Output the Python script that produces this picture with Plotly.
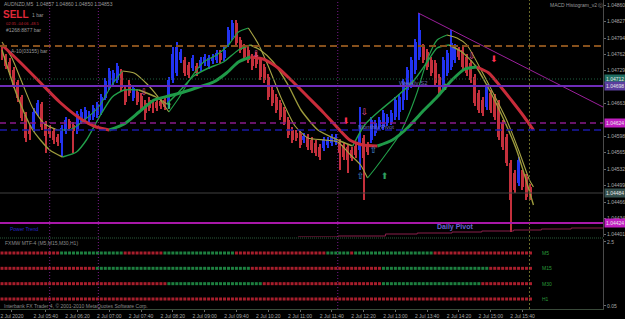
import plotly.graph_objects as go

# ---------------- data ----------------
bar_index = list(range(134))
open_ = [1.04774, 1.04758, 1.04746, 1.04730, 1.04706, 1.04676, 1.04640, 1.04610, 1.04614, 1.04644,
         1.04662, 1.04622, 1.04614, 1.04608, 1.04596, 1.04584, 1.04608, 1.04628, 1.04620, 1.04608,
         1.04630, 1.04634, 1.04630, 1.04636, 1.04640, 1.04646, 1.04674, 1.04694, 1.04706, 1.04710,
         1.04726, 1.04692, 1.04702, 1.04674, 1.04686, 1.04678, 1.04664, 1.04670, 1.04664, 1.04666,
         1.04668, 1.04670, 1.04662, 1.04710, 1.04724, 1.04750, 1.04750, 1.04740, 1.04734, 1.04738,
         1.04734, 1.04744, 1.04738, 1.04748, 1.04750, 1.04764, 1.04754, 1.04782, 1.04796, 1.04824,
         1.04790, 1.04776, 1.04770, 1.04756, 1.04760, 1.04750, 1.04736, 1.04716, 1.04690, 1.04676,
         1.04664, 1.04650, 1.04630, 1.04610, 1.04604, 1.04602, 1.04590, 1.04596, 1.04590, 1.04584,
         1.04576, 1.04574, 1.04580, 1.04584, 1.04586, 1.04586, 1.04580, 1.04576, 1.04570, 1.04578,
         1.04570, 1.04594, 1.04580, 1.04590, 1.04604, 1.04616, 1.04616, 1.04624, 1.04626, 1.04636,
         1.04646, 1.04670, 1.04690, 1.04700, 1.04730, 1.04756, 1.04776, 1.04766, 1.04750, 1.04744,
         1.04716, 1.04696, 1.04724, 1.04736, 1.04750, 1.04770, 1.04770, 1.04756, 1.04744, 1.04716,
         1.04684, 1.04670, 1.04656, 1.04684, 1.04676, 1.04664, 1.04624, 1.04596, 1.04544, 1.04524,
         1.04504, 1.04524, 1.04516, 1.04496]
close_ = [1.04754, 1.04738, 1.04726, 1.04700, 1.04674, 1.04634, 1.04594, 1.04602, 1.04646, 1.04664,
          1.04616, 1.04598, 1.04602, 1.04590, 1.04586, 1.04614, 1.04630, 1.04614, 1.04608, 1.04642,
          1.04646, 1.04650, 1.04642, 1.04654, 1.04660, 1.04676, 1.04708, 1.04728, 1.04724, 1.04738,
          1.04694, 1.04666, 1.04684, 1.04694, 1.04666, 1.04654, 1.04644, 1.04654, 1.04650, 1.04654,
          1.04658, 1.04656, 1.04710, 1.04762, 1.04776, 1.04766, 1.04724, 1.04720, 1.04754, 1.04724,
          1.04750, 1.04756, 1.04754, 1.04756, 1.04764, 1.04750, 1.04770, 1.04810, 1.04824, 1.04784,
          1.04770, 1.04756, 1.04750, 1.04738, 1.04742, 1.04716, 1.04710, 1.04676, 1.04664, 1.04650,
          1.04636, 1.04626, 1.04600, 1.04590, 1.04594, 1.04580, 1.04598, 1.04576, 1.04570, 1.04564,
          1.04556, 1.04590, 1.04590, 1.04596, 1.04596, 1.04564, 1.04556, 1.04550, 1.04554, 1.04560,
          1.04600, 1.04554, 1.04566, 1.04630, 1.04624, 1.04630, 1.04644, 1.04636, 1.04644, 1.04670,
          1.04676, 1.04706, 1.04730, 1.04750, 1.04786, 1.04810, 1.04750, 1.04736, 1.04724, 1.04704,
          1.04684, 1.04750, 1.04764, 1.04784, 1.04776, 1.04756, 1.04736, 1.04724, 1.04710, 1.04664,
          1.04650, 1.04644, 1.04696, 1.04650, 1.04636, 1.04596, 1.04576, 1.04544, 1.04470, 1.04490,
          1.04550, 1.04496, 1.04476, 1.04476]
high_ = [1.04778, 1.04762, 1.04754, 1.04736, 1.04710, 1.04680, 1.04646, 1.04620, 1.04654, 1.04670,
         1.04666, 1.04628, 1.04620, 1.04614, 1.04602, 1.04620, 1.04636, 1.04632, 1.04626, 1.04648,
         1.04652, 1.04656, 1.04648, 1.04660, 1.04666, 1.04682, 1.04714, 1.04734, 1.04730, 1.04744,
         1.04732, 1.04698, 1.04710, 1.04700, 1.04692, 1.04684, 1.04670, 1.04676, 1.04670, 1.04672,
         1.04674, 1.04676, 1.04716, 1.04776, 1.04786, 1.04772, 1.04756, 1.04746, 1.04760, 1.04744,
         1.04756, 1.04762, 1.04760, 1.04762, 1.04770, 1.04770, 1.04776, 1.04816, 1.04830, 1.04830,
         1.04796, 1.04782, 1.04776, 1.04762, 1.04766, 1.04756, 1.04742, 1.04722, 1.04696, 1.04682,
         1.04670, 1.04656, 1.04636, 1.04616, 1.04610, 1.04608, 1.04604, 1.04602, 1.04596, 1.04590,
         1.04582, 1.04596, 1.04596, 1.04602, 1.04602, 1.04592, 1.04586, 1.04582, 1.04576, 1.04584,
         1.04656, 1.04600, 1.04586, 1.04636, 1.04630, 1.04636, 1.04650, 1.04642, 1.04650, 1.04676,
         1.04682, 1.04712, 1.04736, 1.04756, 1.04792, 1.04844, 1.04782, 1.04772, 1.04756, 1.04750,
         1.04722, 1.04756, 1.04770, 1.04810, 1.04782, 1.04776, 1.04776, 1.04762, 1.04750, 1.04722,
         1.04690, 1.04676, 1.04702, 1.04690, 1.04682, 1.04670, 1.04630, 1.04602, 1.04550, 1.04530,
         1.04556, 1.04530, 1.04522, 1.04502]
low_ = [1.04750, 1.04732, 1.04720, 1.04694, 1.04666, 1.04628, 1.04586, 1.04590, 1.04606, 1.04638,
        1.04610, 1.04564, 1.04594, 1.04582, 1.04578, 1.04556, 1.04602, 1.04608, 1.04564, 1.04602,
        1.04622, 1.04628, 1.04624, 1.04630, 1.04634, 1.04640, 1.04670, 1.04690, 1.04700, 1.04704,
        1.04688, 1.04660, 1.04678, 1.04668, 1.04660, 1.04648, 1.04630, 1.04648, 1.04644, 1.04648,
        1.04652, 1.04650, 1.04654, 1.04704, 1.04718, 1.04744, 1.04718, 1.04714, 1.04728, 1.04718,
        1.04728, 1.04738, 1.04732, 1.04742, 1.04744, 1.04744, 1.04748, 1.04776, 1.04790, 1.04778,
        1.04764, 1.04750, 1.04744, 1.04730, 1.04734, 1.04710, 1.04704, 1.04670, 1.04658, 1.04644,
        1.04630, 1.04620, 1.04594, 1.04584, 1.04588, 1.04574, 1.04584, 1.04570, 1.04564, 1.04558,
        1.04550, 1.04568, 1.04574, 1.04578, 1.04580, 1.04530, 1.04550, 1.04524, 1.04548, 1.04554,
        1.04530, 1.04470, 1.04560, 1.04584, 1.04598, 1.04610, 1.04610, 1.04618, 1.04620, 1.04630,
        1.04630, 1.04650, 1.04670, 1.04694, 1.04722, 1.04750, 1.04744, 1.04730, 1.04718, 1.04698,
        1.04678, 1.04690, 1.04718, 1.04730, 1.04744, 1.04750, 1.04730, 1.04718, 1.04704, 1.04658,
        1.04644, 1.04638, 1.04650, 1.04644, 1.04630, 1.04590, 1.04570, 1.04538, 1.04406, 1.04484,
        1.04498, 1.04490, 1.04470, 1.04470]

# slow MA (thick, red falling / green rising) - bar, price
slow_ma_bar = [0, 4.5, 9.5, 14.5, 19.5, 23.75, 27, 30.75, 34.5, 38.25, 42, 45.75, 49.5, 53.25, 56.5,
               59.5, 62.5, 65.75, 69.5, 73.25, 77, 80.75, 84.5, 87.5, 90.75, 94.5, 98.25, 102,
               105.75, 109.5, 113.25, 116.5, 119.5, 122.5, 125.75, 128.75, 131.25, 133.75]
slow_ma_val = [1.04780, 1.04746, 1.04706, 1.04666, 1.04634, 1.04616, 1.04610, 1.04622, 1.04646,
               1.04670, 1.04678, 1.04686, 1.04696, 1.04706, 1.04724, 1.04746, 1.04756, 1.04752,
               1.04734, 1.04706, 1.04676, 1.04646, 1.04614, 1.04590, 1.04580, 1.04578, 1.04590,
               1.04614, 1.04646, 1.04676, 1.04710, 1.04732, 1.04736, 1.04724, 1.04694, 1.04664,
               1.04638, 1.04610]
# fast MA (thin, olive falling / green rising)
fast_ma_bar = [0, 2.5, 5, 7.75, 10.75, 14, 17.5, 20.75, 24.5, 27.5, 30.25, 33.25, 36.5, 39.5, 42,
               44.5, 47.5, 50.75, 54, 57, 59.5, 62, 64.5, 67, 70.25, 73.75, 77, 81.25, 84.5, 87.75,
               90.25, 92, 94, 97, 99.5, 102, 104.5, 107, 109.5, 112, 114.5, 117, 121.25, 124.5,
               127, 130, 132.75, 133.75]
fast_ma_val = [1.04786, 1.04754, 1.04706, 1.04654, 1.04622, 1.04610, 1.04612, 1.04630, 1.04658,
               1.04698, 1.04728, 1.04724, 1.04702, 1.04674, 1.04646, 1.04674, 1.04714, 1.04746,
               1.04760, 1.04780, 1.04806, 1.04814, 1.04782, 1.04738, 1.04674, 1.04618, 1.04594,
               1.04590, 1.04586, 1.04560, 1.04540, 1.04514, 1.04534, 1.04566, 1.04594, 1.04634,
               1.04686, 1.04750, 1.04790, 1.04800, 1.04794, 1.04780, 1.04720, 1.04670, 1.04630,
               1.04570, 1.04510, 1.04496]
# medium MA (thin, olive falling / green rising)
mid_ma_bar = [0, 3.75, 7.75, 12, 15.25, 18.75, 21.25, 24.5, 27.75, 30.75, 34.5, 38.75, 41.5, 44.5,
              48.25, 52, 55.75, 59.5, 62.5, 65, 68.25, 72, 75.25, 79.5, 84.5, 88.25, 91.25, 95.25,
              99.5, 103.75, 107, 109.5, 112.5, 115.75, 119, 122, 125.75, 129.5, 133.75]
mid_ma_val = [1.04770, 1.04680, 1.04610, 1.04570, 1.04556, 1.04566, 1.04590, 1.04636, 1.04676,
              1.04690, 1.04690, 1.04676, 1.04662, 1.04686, 1.04718, 1.04734, 1.04746, 1.04770,
              1.04780, 1.04770, 1.04746, 1.04700, 1.04650, 1.04610, 1.04590, 1.04578, 1.04620,
              1.04650, 1.04678, 1.04710, 1.04746, 1.04774, 1.04780, 1.04766, 1.04740, 1.04700,
              1.04640, 1.04570, 1.04460]

# horizontal levels
level_prices = [1.04778, 1.04712, 1.04698, 1.04624, 1.04610, 1.04484, 1.04424]
level_colors = ["#86501c", "#1f5f40", "#6e2cb8", "#8a1a8a", "#1a1aa8", "#404040", "#a818a8"]
level_dash = ["7px,4px", "1px,2px", "solid", "6px,4px", "7px,4px", "solid", "solid"]
level_width = [2, 1, 2, 1.5, 1.5, 1, 2]
level_tag_bg = ["", "#1f6e62", "#5b3e9e", "#c21fc2", "", "#35504e", "#c21fc2"]

# trend line and stepped line
trend_bar = [104.75, 151.25]
trend_val = [1.04844, 1.04656]
step_bar = [74.5, 84.5, 96.5, 104.5, 113.25, 120.75, 128.75, 135.75, 143.25, 151.25]
step_val = [1.04396, 1.04398, 1.04402, 1.04404, 1.04406, 1.04408, 1.04410, 1.04412, 1.04414, 1.04414]

# signal arrows
arrow_bar = [35.75, 42, 64, 86.5, 91.25, 90.25, 93.5, 96.25, 111.5, 118.25, 123.75]
arrow_val = [1.04684, 1.04656, 1.04760, 1.04626, 1.04644, 1.04516, 1.04568, 1.04516, 1.04694,
             1.04756, 1.04750]
arrow_sym = ["⇩", "⬆", "⇩", "⬇", "⇩", "⇧", "⇧", "⬆", "⬆", "⇩", "⬇"]
arrow_col = ["#e0509a", "#3cb371", "#e0509a", "#ff3050", "#e0509a", "#4a90e0", "#4a90e0",
             "#2ea060", "#2ea060", "#e0509a", "#ff3050"]

# period separators
sep_bars = [12, 24.25, 84.5]
current_bar = 132.75

# price labels (those hidden under the line tags are left out)
price_tick_labels = ["1.04860", "1.04827", "1.04794", "1.04762", "1.04729", "1.04663",
                     "1.04598", "1.04565", "1.04532", "1.04499", "1.04466", "1.04434",
                     "1.04401"]
time_tick_labels = ["2 Jul 2020", "2 Jul 05:40", "2 Jul 06:20", "2 Jul 07:00", "2 Jul 07:40",
                    "2 Jul 08:20", "2 Jul 09:00", "2 Jul 09:40", "2 Jul 10:20", "2 Jul 11:00",
                    "2 Jul 11:40", "2 Jul 12:20", "2 Jul 13:00", "2 Jul 13:40", "2 Jul 14:20",
                    "2 Jul 15:00", "2 Jul 15:40"]

# MTF trend rows (run lengths of r=down / g=up)
mtf_rows = ["M5", "M15", "M30", "H1"]
mtf_runs = [
    [("r", 15), ("g", 16), ("r", 10), ("g", 18), ("r", 23), ("g", 6), ("r", 1), ("g", 20), ("r", 25)],
    [("r", 24), ("g", 39), ("r", 33), ("g", 27), ("r", 11)],
    [("r", 42), ("g", 24), ("r", 30), ("g", 25), ("r", 13)],
    [("r", 134)],
]

# ---------------- figure ----------------
BULL = "#2233f0"
BEAR = "#c4303c"
FONT = "Liberation Sans"
H = 309.0

fig = go.Figure()

cols = [BULL if c > o else BEAR for o, c in zip(open_, close_)]
fig.add_trace(go.Bar(x=bar_index, y=[h - l for h, l in zip(high_, low_)], base=low_, width=0.28,
                     marker=dict(color=cols, line=dict(width=0)), xaxis="x", yaxis="y",
                     hoverinfo="skip", showlegend=False))
fig.add_trace(go.Bar(x=bar_index, y=[max(abs(c - o), 0.00002) for o, c in zip(open_, close_)],
                     base=[min(o, c) for o, c in zip(open_, close_)], width=0.75,
                     marker=dict(color=cols, line=dict(width=0)), xaxis="x", yaxis="y",
                     hoverinfo="skip", showlegend=False))


def add_slope_line(xs, ys, up, down, width):
    cur = None
    sx, sy = [], []
    for i in range(len(xs) - 1):
        col = up if ys[i + 1] >= ys[i] else down
        if col != cur:
            if cur is not None:
                fig.add_trace(go.Scatter(x=sx, y=sy, mode="lines", line=dict(color=cur, width=width, shape="spline", smoothing=0.6),
                                         xaxis="x", yaxis="y", hoverinfo="skip", showlegend=False))
            cur = col
            sx, sy = [xs[i]], [ys[i]]
        sx.append(xs[i + 1])
        sy.append(ys[i + 1])
    fig.add_trace(go.Scatter(x=sx, y=sy, mode="lines", line=dict(color=cur, width=width, shape="spline", smoothing=0.6),
                             xaxis="x", yaxis="y", hoverinfo="skip", showlegend=False))


add_slope_line(mid_ma_bar, mid_ma_val, "#22a04a", "#9c9a3c", 1.4)
add_slope_line(fast_ma_bar, fast_ma_val, "#22a04a", "#a8a445", 1.1)
add_slope_line(slow_ma_bar, slow_ma_val, "#1f9a48", "#c82c3a", 3)

# trend line, stepped line
fig.add_trace(go.Scatter(x=trend_bar, y=trend_val, mode="lines", line=dict(color="#9b1f9b", width=1),
                         xaxis="x", yaxis="y", hoverinfo="skip", showlegend=False))
fig.add_trace(go.Scatter(x=step_bar, y=step_val, mode="lines", line=dict(color="#8a1f4a", width=1, shape="hv"),
                         xaxis="x", yaxis="y", hoverinfo="skip", showlegend=False))

# arrows
fig.add_trace(go.Scatter(x=arrow_bar, y=arrow_val, mode="text", text=arrow_sym,
                         textfont=dict(color=arrow_col, size=9, family="DejaVu Sans"),
                         xaxis="x", yaxis="y", hoverinfo="skip", showlegend=False))

# MTF squares
for r, (name, runs) in enumerate(zip(mtf_rows, mtf_runs)):
    states = []
    for s, n in runs:
        states += [s] * n
    level = 4 - r
    fig.add_trace(go.Scatter(x=bar_index, y=[level] * len(bar_index), mode="markers",
                             marker=dict(symbol="square", size=3,
                                         color=["#1d8040" if s == "g" else "#a81e2c" for s in states],
                                         line=dict(width=0)),
                             xaxis="x2", yaxis="y2", hoverinfo="skip", showlegend=False))

shapes = []
for p, c, d, w in zip(level_prices, level_colors, level_dash, level_width):
    shapes.append(dict(type="line", xref="x domain", x0=0, x1=1, yref="y", y0=p, y1=p,
                       line=dict(color=c, width=w, dash=d), layer="above"))
for b in sep_bars:
    shapes.append(dict(type="line", xref="x", x0=b, x1=b, yref="paper", y0=0, y1=1,
                       line=dict(color="#7a1a8a", width=1, dash="1px,2px")))
shapes.append(dict(type="line", xref="x", x0=current_bar, x1=current_bar, yref="paper", y0=0, y1=1,
                   line=dict(color="#6b6b2a", width=1, dash="2px,2px")))
# sub window border
shapes.append(dict(type="line", xref="paper", x0=0, x1=1, yref="paper", y0=1 - 238 / H, y1=1 - 238 / H,
                   line=dict(color="#2a5a3a", width=1, dash="1px,1px")))

annotations = []
for p, bg in zip(level_prices, level_tag_bg):
    if bg:
        annotations.append(dict(xref="paper", x=1, xanchor="left", xshift=1, yref="y", y=p,
                                text=f"{p:.5f}", showarrow=False, bgcolor=bg, borderpad=1,
                                font=dict(family=FONT, size=5, color="#e8e8e8")))


def ptxt(px, py, text, size=5, color="#9a9a9a"):
    annotations.append(dict(xref="paper", yref="paper", x=px / 607.0, y=1 - py / H, xanchor="left",
                            yanchor="middle", text=text, showarrow=False, borderpad=0,
                            font=dict(family=FONT, size=size, color=color)))


ptxt(3, 4, "AUDNZD,M5  1.04857 1.04860 1.04850 1.04853")
ptxt(2, 14, "<b>SELL</b>", size=10, color="#e0283a")
ptxt(31, 15, "1 bar")
ptxt(5, 23.5, "02:35 -04:06 -48.5", size=4, color="#c02030")
ptxt(5, 30.5, "#1268:8877 bar")
ptxt(10, 51, "A-10(03155) bar")
ptxt(553, 5, "MACD Histogram_v2 ⓒ")
ptxt(4, 243, "FXMW MTF-4 (M5,M15,M30,H1)", color="#8a8a8a")
ptxt(3, 306, "Interbank FX Trader 4, © 2001-2010 MetaQuotes Software Corp.", color="#8a8a8a")

# chart labels in data coords
def dtxt(b, p, text, size=5, color="#7070b0"):
    annotations.append(dict(xref="x", yref="y", x=b, y=p, xanchor="left", yanchor="middle",
                            text=text, showarrow=False, font=dict(family=FONT, size=size, color=color)))


dtxt(99.5, 1.04704, "Weekly S2", size=6)
dtxt(89, 1.04616, "Monthly Pivot", size=6)
dtxt(109, 1.04416, "<b>Daily Pivot</b>", size=7, color="#6464d0")
dtxt(1.5, 1.04412, "Power Trend", size=5, color="#2828c8")

for r, name in enumerate(mtf_rows):
    annotations.append(dict(xref="x2", yref="y2", x=135.5, y=4 - r, xanchor="left", yanchor="middle",
                            text=name, showarrow=False, font=dict(family=FONT, size=5, color="#2a9a3a")))

time_tick_vals = [2.5] + [8 * k + 3 for k in range(1, len(time_tick_labels))]

fig.update_layout(
    width=625, height=319,
    margin=dict(l=0, r=18, t=0, b=10),
    paper_bgcolor="#000000", plot_bgcolor="#000000",
    barmode="overlay", bargap=0,
    showlegend=False,
    shapes=shapes, annotations=annotations,
    xaxis=dict(domain=[0, 1], anchor="y", range=[-0.5, 151.25], showgrid=False, zeroline=False,
               showticklabels=False, ticks=""),
    yaxis=dict(domain=[1 - 237 / H, 1], anchor="x", side="right", range=[1.04396, 1.04870],
               showgrid=False, zeroline=False, showline=True, linecolor="#4a4a4a", linewidth=1,
               tickvals=[float(s) for s in price_tick_labels], ticktext=price_tick_labels,
               ticks="outside", ticklen=2, tickcolor="#6a6a6a",
               tickfont=dict(family=FONT, size=5, color="#a8a8a8")),
    xaxis2=dict(domain=[0, 1], anchor="y2", matches="x", range=[-0.5, 151.25], showgrid=False,
                zeroline=False, tickvals=time_tick_vals, ticktext=time_tick_labels,
                ticks="outside", ticklen=2, tickcolor="#6a6a6a",
                showline=True, linecolor="#3a4a3a",
                tickfont=dict(family=FONT, size=5, color="#a8a8a8")),
    yaxis2=dict(domain=[0, 70 / H], anchor="x2", side="right", range=[0.348, 4.913],
                showgrid=False, zeroline=False, showline=True, linecolor="#4a4a4a",
                tickvals=[4.72, 0.55], ticktext=["2.5", "0.05"], ticks="outside", ticklen=2,
                tickcolor="#6a6a6a", tickfont=dict(family=FONT, size=5, color="#a8a8a8")),
)

fig.write_html("out.html")
